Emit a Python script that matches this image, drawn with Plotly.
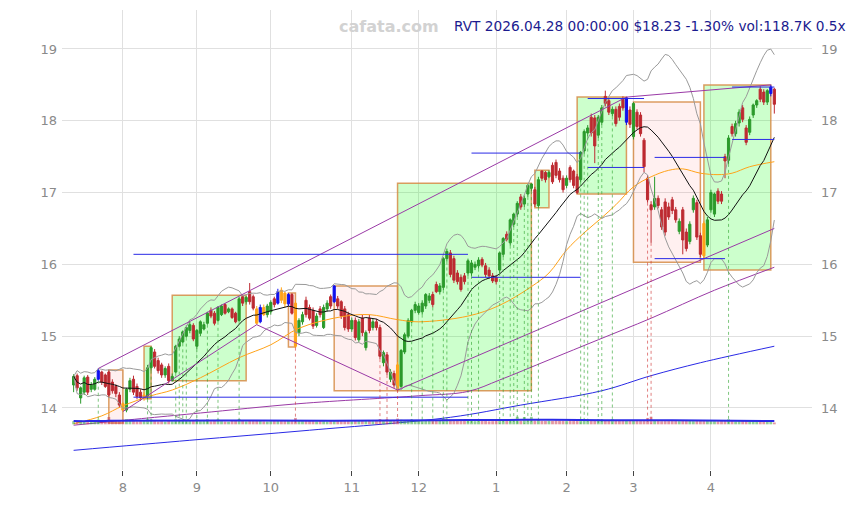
import numpy as np
import pandas as pd
import plotly.graph_objects as go


UP_COLOR = "#2b9a2b"
DOWN_COLOR = "#bd2a31"
BLUE = "#2a2ae6"
ORANGE = "#ffa31a"
PURPLE = "#9a3aa6"
GRID = "#e0e0e0"
TICK_FONT = dict(family="DejaVu Sans", size=13, color="#8a8a8a")

# daily candles, 2025-07-14 .. 2026-04-28 (trading-day index 0..199)
opens = [
    14.32, 14.45, 14.14, 14.22, 14.43, 14.26, 14.26, 14.40, 14.50, 14.46,
    14.50, 14.36, 14.30, 14.18, 14.06, 13.97, 14.26, 14.40, 14.30, 14.22,
    14.14, 14.16, 14.56, 14.78, 14.66, 14.60, 14.46, 14.58, 14.38, 14.50,
    14.86, 14.92, 15.00, 15.08, 15.15, 14.86, 15.04, 15.10, 15.18, 15.36,
    15.32, 15.22, 15.30, 15.44, 15.34, 15.38, 15.32, 15.22, 15.55, 15.48,
    15.62, 15.55, 15.38, 15.20, 15.40, 15.30, 15.34, 15.52, 15.46, 15.64,
    15.60, 15.45, 15.58, 15.46, 15.05, 15.20, 15.50, 15.40, 15.36, 15.15,
    15.38, 15.12, 15.38, 15.55, 15.48, 15.52, 15.48, 15.38, 15.30, 15.10,
    15.22, 14.95, 15.25, 14.84, 15.25, 15.12, 15.20, 15.12, 14.63, 14.74,
    14.40, 14.48, 14.60, 14.30, 14.78, 15.00, 15.20, 15.36, 15.33, 15.34,
    15.42, 15.50, 15.58, 15.72, 15.62, 15.68, 16.08, 16.16, 16.08, 15.88,
    15.82, 15.84, 15.88, 15.88, 15.96, 15.98, 16.07, 15.98, 15.92, 15.84,
    15.82, 15.92, 16.14, 16.42, 16.30, 16.56, 16.70, 16.94, 16.84, 16.98,
    17.06, 17.04, 16.82, 17.30, 17.28, 17.22, 17.38, 17.42, 17.30, 17.20,
    17.10, 17.35, 17.30, 17.22, 17.18, 17.58, 17.83, 18.05, 18.04, 17.80,
    17.98, 18.34, 18.28, 18.10, 18.16, 18.20, 18.30, 17.98, 18.15, 17.78,
    18.12, 18.08, 17.73, 17.20, 16.83, 16.80, 16.92, 16.76, 16.87, 16.80,
    16.90, 16.76, 16.46, 16.76, 16.45, 16.32, 16.76, 16.86, 16.40, 16.57,
    16.27, 16.76, 16.70, 17.02, 16.98, 17.50, 17.45, 17.92, 17.82, 17.97,
    18.18, 17.90, 17.84, 18.08, 18.22, 18.44, 18.40, 18.26, 18.38, 18.44,
]
highs = [
    14.47, 14.48, 14.30, 14.45, 14.46, 14.36, 14.43, 14.55, 14.52, 14.48,
    14.53, 14.40, 14.33, 14.22, 14.08, 14.28, 14.42, 14.45, 14.34, 14.26,
    14.22, 14.60, 14.86, 14.82, 14.70, 14.63, 14.58, 14.62, 14.48, 14.88,
    15.00, 15.08, 15.15, 15.20, 15.18, 15.10, 15.22, 15.20, 15.34, 15.40,
    15.35, 15.42, 15.44, 15.46, 15.40, 15.40, 15.34, 15.55, 15.57, 15.56,
    15.74, 15.58, 15.42, 15.44, 15.44, 15.45, 15.50, 15.55, 15.66, 15.68,
    15.62, 15.60, 15.60, 15.50, 15.25, 15.34, 15.55, 15.44, 15.40, 15.32,
    15.42, 15.44, 15.50, 15.58, 15.71, 15.56, 15.50, 15.42, 15.34, 15.26,
    15.26, 15.24, 15.30, 15.08, 15.30, 15.24, 15.24, 15.16, 14.80, 14.78,
    14.54, 14.52, 14.64, 14.82, 15.05, 15.25, 15.38, 15.48, 15.46, 15.50,
    15.60, 15.60, 15.62, 15.76, 15.74, 16.10, 16.22, 16.20, 16.12, 15.92,
    15.86, 15.88, 16.08, 16.06, 16.04, 16.10, 16.10, 16.02, 15.96, 15.88,
    15.85, 16.18, 16.38, 16.46, 16.64, 16.72, 16.88, 16.98, 16.96, 17.12,
    17.13, 17.08, 17.22, 17.31, 17.30, 17.31, 17.42, 17.46, 17.34, 17.24,
    17.24, 17.38, 17.32, 17.26, 17.58, 17.88, 17.94, 18.10, 18.08, 18.08,
    18.22, 18.42, 18.32, 18.20, 18.20, 18.24, 18.34, 18.33, 18.20, 18.26,
    18.16, 18.12, 17.76, 17.24, 16.88, 17.22, 16.96, 16.80, 16.92, 16.86,
    16.94, 16.80, 16.64, 16.80, 16.50, 16.60, 16.96, 16.90, 16.44, 16.60,
    16.66, 17.04, 17.00, 17.06, 17.02, 17.54, 17.80, 17.96, 18.00, 18.16,
    18.22, 17.94, 18.06, 18.24, 18.30, 18.48, 18.44, 18.44, 18.50, 18.46,
]
lows = [
    14.22, 14.24, 14.06, 14.18, 14.18, 14.22, 14.24, 14.38, 14.32, 14.28,
    14.15, 14.20, 14.15, 14.00, 13.95, 13.94, 14.22, 14.18, 14.12, 14.10,
    14.10, 14.12, 14.52, 14.55, 14.48, 14.42, 14.42, 14.34, 14.37, 14.48,
    14.84, 14.90, 14.98, 15.04, 14.93, 14.82, 15.00, 15.08, 15.16, 15.25,
    15.15, 15.20, 15.28, 15.30, 15.32, 15.24, 15.18, 15.20, 15.42, 15.44,
    15.44, 15.36, 15.16, 15.18, 15.28, 15.26, 15.30, 15.40, 15.44, 15.46,
    15.40, 15.42, 15.30, 14.84, 15.00, 15.16, 15.26, 15.22, 15.10, 15.12,
    15.26, 15.10, 15.34, 15.38, 15.46, 15.38, 15.24, 15.08, 15.06, 15.06,
    14.94, 14.92, 15.00, 14.80, 15.04, 15.08, 15.08, 14.68, 14.58, 14.46,
    14.36, 14.28, 14.25, 14.28, 14.75, 14.97, 15.18, 15.32, 15.30, 15.30,
    15.38, 15.46, 15.40, 15.60, 15.58, 15.64, 16.04, 15.82, 15.74, 15.72,
    15.62, 15.72, 15.84, 15.84, 15.92, 15.94, 15.96, 15.82, 15.80, 15.74,
    15.72, 15.88, 16.10, 16.32, 16.26, 16.52, 16.66, 16.76, 16.80, 16.94,
    17.02, 16.80, 16.79, 17.16, 17.14, 17.20, 17.12, 17.20, 17.14, 17.00,
    17.06, 17.14, 17.06, 16.98, 17.14, 17.54, 17.78, 17.78, 17.41, 17.76,
    17.94, 18.20, 18.08, 18.06, 17.92, 18.00, 18.14, 17.94, 17.90, 17.74,
    17.88, 17.78, 17.28, 16.86, 16.30, 16.76, 16.78, 16.48, 16.40, 16.62,
    16.70, 16.58, 16.42, 16.14, 16.18, 16.28, 16.72, 16.34, 16.10, 16.08,
    16.24, 16.72, 16.66, 16.84, 16.84, 17.20, 17.40, 17.78, 17.78, 17.92,
    17.98, 17.66, 17.80, 18.04, 18.18, 18.26, 18.22, 18.22, 18.34, 18.10,
]
closes = [
    14.44, 14.28, 14.28, 14.42, 14.22, 14.32, 14.40, 14.52, 14.36, 14.30,
    14.18, 14.24, 14.20, 14.04, 13.97, 14.26, 14.38, 14.22, 14.16, 14.14,
    14.18, 14.56, 14.84, 14.58, 14.52, 14.46, 14.55, 14.38, 14.44, 14.86,
    14.96, 15.06, 15.12, 15.16, 14.96, 15.08, 15.20, 15.16, 15.32, 15.28,
    15.18, 15.40, 15.42, 15.32, 15.38, 15.26, 15.20, 15.52, 15.46, 15.54,
    15.48, 15.39, 15.18, 15.40, 15.30, 15.42, 15.47, 15.44, 15.62, 15.50,
    15.45, 15.58, 15.32, 14.86, 15.22, 15.30, 15.30, 15.25, 15.14, 15.28,
    15.30, 15.40, 15.46, 15.42, 15.70, 15.42, 15.28, 15.12, 15.10, 15.22,
    14.98, 15.20, 15.05, 15.05, 15.08, 15.20, 15.12, 14.72, 14.77, 14.50,
    14.50, 14.32, 14.27, 14.80, 15.02, 15.22, 15.36, 15.44, 15.42, 15.46,
    15.58, 15.56, 15.44, 15.62, 15.70, 16.08, 16.18, 15.86, 15.78, 15.76,
    15.65, 15.76, 16.05, 16.02, 16.00, 16.06, 15.99, 15.86, 15.84, 15.77,
    15.76, 16.16, 16.36, 16.35, 16.62, 16.70, 16.85, 16.80, 16.92, 17.10,
    17.12, 16.84, 17.18, 17.20, 17.18, 17.28, 17.15, 17.24, 17.18, 17.04,
    17.20, 17.18, 17.10, 17.00, 17.56, 17.85, 17.90, 17.83, 17.65, 18.05,
    18.18, 18.24, 18.12, 18.16, 17.96, 18.05, 18.18, 18.32, 17.95, 18.24,
    17.92, 17.82, 17.36, 16.90, 16.76, 16.92, 16.82, 16.52, 16.45, 16.66,
    16.75, 16.62, 16.60, 16.34, 16.22, 16.56, 16.92, 16.38, 16.14, 16.12,
    16.62, 17.00, 16.98, 16.88, 16.88, 17.44, 17.76, 17.82, 17.96, 18.12,
    18.02, 17.70, 18.02, 18.22, 18.28, 18.30, 18.26, 18.42, 18.47, 18.23,
]
volumes_k = [
    210, 185, 240, 200, 230, 190, 175, 310, 205, 220,
    480, 260, 230, 250, 290, 330, 220, 250, 200, 210,
    240, 340, 320, 230, 190, 210, 180, 220, 200, 330,
    310, 300, 320, 220, 240, 340, 210, 230, 330, 200,
    230, 320, 210, 190, 180, 220, 240, 350, 230, 200,
    250, 260, 230, 220, 200, 190, 210, 230, 220, 250,
    240, 260, 280, 420, 230, 210, 250, 230, 260, 200,
    220, 210, 190, 230, 260, 240, 250, 270, 230, 200,
    250, 230, 240, 220, 260, 210, 230, 340, 220, 330,
    240, 260, 380, 300, 250, 260, 320, 230, 240, 310,
    250, 230, 320, 220, 240, 360, 330, 300, 270, 250,
    330, 260, 300, 320, 210, 310, 220, 230, 200, 210,
    230, 340, 330, 240, 340, 330, 500, 240, 480, 350,
    490, 260, 340, 230, 220, 240, 230, 260, 240, 220,
    210, 300, 320, 300, 330, 320, 330, 240, 280, 330,
    320, 250, 230, 330, 220, 240, 230, 280, 220, 240,
    230, 250, 280, 420, 500, 230, 240, 210, 260, 220,
    230, 240, 210, 270, 230, 220, 210, 240, 260, 280,
    250, 220, 210, 200, 230, 240, 330, 220, 200, 210,
    230, 220, 200, 210, 190, 230, 210, 200, 220, 118.7,
]

# highlighted pivot candles
blue_days = [7, 53, 58, 61, 74, 157, 198]
orange_days = [14, 20, 52, 54, 59, 60, 63, 92, 179]

# signal days marked with dotted drop lines
green_signal_days = [7, 21, 22, 29, 30, 31, 32, 35, 38, 41, 47, 96, 99, 102, 105,
                     106, 112, 113, 115, 121, 122, 124, 125, 126, 128, 129, 130,
                     132, 144, 145, 146, 149, 150, 153, 186]
red_signal_days = [63, 87, 89, 92, 163, 164]

# trend channel pivots
upper_pivots = [7, 157, 198]
lower_pivots = [14, 52, 92, 179]

# longer moving averages
orange_ma_idx = [0, 8, 14, 22, 28, 36, 47, 56, 64, 76, 84, 92, 98, 112, 121, 130,
                 135, 140, 145, 150, 154, 159, 164, 169, 173, 178, 183, 187, 192, 199]
orange_ma_val = [13.78, 13.89, 14.03, 14.17, 14.25, 14.42, 14.70, 14.88, 15.11, 15.27,
                 15.30, 15.23, 15.20, 15.28, 15.43, 15.69, 15.88, 16.20, 16.44, 16.65,
                 16.83, 17.08, 17.22, 17.31, 17.33, 17.27, 17.25, 17.27, 17.36, 17.43]
purple_ma_idx = [0, 21, 36, 64, 98, 112, 121, 135, 149, 164, 182, 199]
purple_ma_val = [13.76, 13.86, 13.93, 14.06, 14.17, 14.23, 14.39, 14.67, 14.95,
                 15.25, 15.64, 15.96]
blue_ma_idx = [0, 33, 67, 107, 127, 150, 164, 178, 199]
blue_ma_val = [13.41, 13.55, 13.69, 13.87, 14.04, 14.24, 14.45, 14.63, 14.86]

# support / resistance pairs
level_start = [17, 113, 146, 165, 187]
level_end = [112, 144, 162, 185, 199]
level_high = [16.14, 17.55, 18.31, 17.49, 18.47]
level_low = [14.15, 15.82, 17.35, 16.08, 17.74]

# trend boxes
box_start = [10, 20, 28, 61, 74, 92, 131, 143, 159, 179]
box_end = [14, 22, 49, 63, 92, 130, 135, 157, 178, 198]
box_top = [14.53, 14.86, 15.57, 15.60, 15.70, 17.13, 17.31, 18.33, 18.26, 18.50]
box_bottom = [13.79, 14.13, 14.38, 14.85, 14.24, 14.24, 16.79, 16.98, 16.03, 15.92]
box_kind = ["down", "up", "up", "down", "down", "up", "up", "up", "down", "up"]

month_pos = [14, 35, 56, 79, 98, 120, 140, 159, 181]
month_labels = ["8", "9", "10", "11", "12", "1", "2", "3", "4"]

Y_RANGE = [13.136, 19.543]
X_RANGE = [-3.3, 209.7]
VOL_BASE = 13.78


df = pd.DataFrame(
    {"open": opens, "high": highs, "low": lows, "close": closes, "vol": volumes_k}
)
df["ma20"] = df["close"].rolling(20, min_periods=1).mean()
std20 = df["close"].rolling(20, min_periods=1).std(ddof=0).fillna(0)
df["bb_up"] = df["ma20"] + 2 * std20
df["bb_dn"] = df["ma20"] - 2 * std20
df["vol_ma"] = df["vol"].rolling(20, min_periods=1).mean()

special = set(blue_days) | set(orange_days)
regular = df.drop(index=list(special))

fig = go.Figure()

# boxes
for s, e, top, bot, kind in zip(box_start, box_end, box_top, box_bottom, box_kind):
    fig.add_shape(
        type="rect", xref="x", yref="y", x0=s, x1=e, y0=bot, y1=top,
        fillcolor="rgba(0,255,0,0.2)" if kind == "up" else "rgba(255,60,60,0.08)",
        line=dict(color="rgba(214,140,70,0.85)", width=1.5),
        layer="between",
    )

# volume on hidden overlay axis
vol_colors = [
    "rgba(60,165,60,0.55)" if c >= o else "rgba(200,50,70,0.5)"
    for o, c in zip(df["open"], df["close"])
]
fig.add_trace(go.Bar(x=df.index, y=df["vol"], marker_color=vol_colors,
                     marker_line_width=0, width=0.8, yaxis="y3", hoverinfo="skip"))
fig.add_trace(go.Scatter(x=df.index, y=df["vol_ma"], mode="lines", yaxis="y3",
                         line=dict(color=BLUE, width=2), hoverinfo="skip"))

# long MAs
fig.add_trace(go.Scatter(x=blue_ma_idx, y=blue_ma_val, mode="lines",
                         line=dict(color=BLUE, width=1, shape="spline")))
fig.add_trace(go.Scatter(x=purple_ma_idx, y=purple_ma_val, mode="lines",
                         line=dict(color=PURPLE, width=1, shape="spline")))
fig.add_trace(go.Scatter(x=orange_ma_idx, y=orange_ma_val, mode="lines",
                         line=dict(color=ORANGE, width=1, shape="spline")))

# bollinger + sma20
fig.add_trace(go.Scatter(x=df.index, y=df["bb_up"], mode="lines",
                         line=dict(color="#9a9a9a", width=1)))
fig.add_trace(go.Scatter(x=df.index, y=df["bb_dn"], mode="lines",
                         line=dict(color="#9a9a9a", width=1)))
fig.add_trace(go.Scatter(x=df.index, y=df["ma20"], mode="lines",
                         line=dict(color="#111111", width=1)))

# trend channel lines through pivots
up_y = [highs[i] for i in upper_pivots]
fig.add_trace(go.Scatter(x=upper_pivots, y=up_y, mode="lines",
                         line=dict(color=PURPLE, width=1)))
lo_x = list(lower_pivots)
lo_y = [lows[i] for i in lower_pivots]
slope = (lo_y[-1] - lo_y[-2]) / (lo_x[-1] - lo_x[-2])
lo_x.append(len(closes) - 1)
lo_y.append(lo_y[-1] + slope * (lo_x[-1] - lo_x[-2]))
fig.add_trace(go.Scatter(x=lo_x, y=lo_y, mode="lines",
                         line=dict(color=PURPLE, width=1)))

# support / resistance levels
lx, ly = [], []
for s, e, hi, lo in zip(level_start, level_end, level_high, level_low):
    lx += [s, e, None, s, e, None]
    ly += [hi, hi, None, lo, lo, None]
fig.add_trace(go.Scatter(x=lx, y=ly, mode="lines", line=dict(color=BLUE, width=1)))

# dotted signal drops
for days, color in [(green_signal_days, "rgba(40,160,40,0.6)"),
                    (red_signal_days, "rgba(205,45,45,0.6)")]:
    dx, dy = [], []
    for i in days:
        dx += [i, i, None]
        dy += [lows[i], VOL_BASE, None]
    fig.add_trace(go.Scatter(x=dx, y=dy, mode="lines",
                             line=dict(color=color, width=1, dash="dot")))

# candles
fig.add_trace(go.Candlestick(
    x=regular.index, open=regular["open"], high=regular["high"],
    low=regular["low"], close=regular["close"],
    increasing=dict(line=dict(color=UP_COLOR, width=1), fillcolor=UP_COLOR),
    decreasing=dict(line=dict(color=DOWN_COLOR, width=1), fillcolor=DOWN_COLOR),
    whiskerwidth=0,
))
for days, color in [(blue_days, "#1010ee"), (orange_days, ORANGE)]:
    sub = df.loc[days]
    fig.add_trace(go.Candlestick(
        x=sub.index, open=sub["open"], high=sub["high"],
        low=sub["low"], close=sub["close"],
        increasing=dict(line=dict(color=color, width=1), fillcolor=color),
        decreasing=dict(line=dict(color=color, width=1), fillcolor=color),
        whiskerwidth=0,
    ))

# dummy trace so the right-hand price axis is drawn
fig.add_trace(go.Scatter(x=[0], y=[closes[0]], yaxis="y2", mode="markers",
                         marker=dict(opacity=0), hoverinfo="skip"))

prev_close = closes[-2]
last = closes[-1]
pct = (last / prev_close - 1) * 100
vol_ratio = volumes_k[-1] / df["vol_ma"].iloc[-1]
title = (f"RVT 2026.04.28 00:00:00 ${last:.2f} {pct:.2f}% "
         f"vol:{volumes_k[-1]:.1f}K {vol_ratio:.1f}x")

fig.add_annotation(text=title, xref="paper", yref="paper", x=1.048, y=0.965,
                   xanchor="right", yanchor="middle", showarrow=False,
                   font=dict(family="DejaVu Sans", size=13.7, color="#1b1b8f"))
fig.add_annotation(text="<b>cafata.com</b>", xref="paper", yref="paper", x=0.436,
                   y=0.965, xanchor="center", yanchor="middle", showarrow=False,
                   font=dict(family="DejaVu Sans", size=16, color="#d2d2d2"))

vol_px = 66.0  # thousand shares per pixel
fig.update_layout(
    width=859, height=505,
    margin=dict(l=62, r=47, t=10, b=35),
    paper_bgcolor="white", plot_bgcolor="white",
    showlegend=False, hovermode=False, boxgap=0.12,
    xaxis=dict(range=X_RANGE, tickvals=month_pos, ticktext=month_labels,
               showgrid=True, gridcolor=GRID, zeroline=False,
               ticks="outside", ticklen=5, tickcolor="#444",
               tickfont=TICK_FONT, rangeslider=dict(visible=False)),
    yaxis=dict(range=Y_RANGE, dtick=1, showgrid=True, gridcolor=GRID,
               zeroline=False, tickfont=TICK_FONT, ticklabelstandoff=4),
    yaxis2=dict(range=Y_RANGE, dtick=1, overlaying="y", side="right",
                showgrid=False, zeroline=False, tickfont=TICK_FONT,
                ticklabelstandoff=8),
    yaxis3=dict(range=[-45.7 * vol_px, 414.3 * vol_px], overlaying="y",
                visible=False),
)

fig.write_html("out.html", config={"displayModeBar": False},
               post_script="document.body.style.margin='0';")
